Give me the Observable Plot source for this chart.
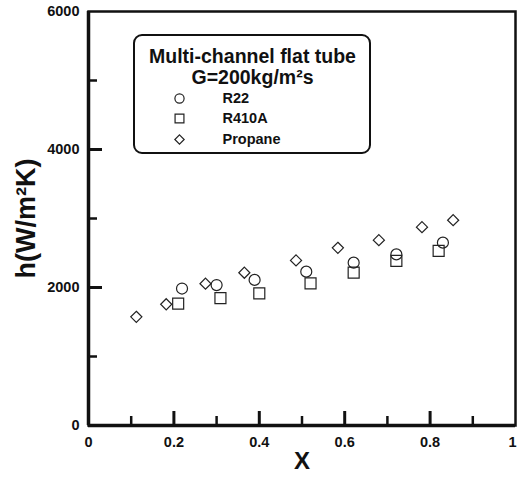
<!DOCTYPE html>
<html>
<head>
<meta charset="utf-8">
<script src="https://cdn.jsdelivr.net/npm/d3@7"></script>
<script src="https://cdn.jsdelivr.net/npm/@observablehq/plot@0.6"></script>
<style>
  html, body { margin: 0; padding: 0; background: #fff; }
  #chart { width: 518px; height: 479px; }
  svg { font-family: "Liberation Sans", Arial, sans-serif; }
</style>
</head>
<body>
<div id="chart"></div>
<script>
// ---- data ----
const r22X = [0.219, 0.300, 0.389, 0.510, 0.621, 0.721, 0.830];
const r22H = [1985, 2035, 2110, 2230, 2360, 2480, 2650];
const r410aX = [0.210, 0.309, 0.400, 0.520, 0.621, 0.721, 0.820];
const r410aH = [1765, 1845, 1915, 2060, 2215, 2385, 2530];
const propaneX = [0.112, 0.182, 0.274, 0.365, 0.486, 0.584, 0.680, 0.781, 0.854];
const propaneH = [1575, 1757, 2055, 2214, 2393, 2575, 2686, 2874, 2975];

const xMajorTicks = [0, 0.2, 0.4, 0.6, 0.8, 1];
const xMinorTicks = [0.1, 0.3, 0.5, 0.7, 0.9];
const yMajorTicks = [0, 2000, 4000, 6000];
const yMinorTicks = [1000, 3000, 5000];
const xTickLabels = ["0", "0.2", "0.4", "0.6", "0.8", "1"];
const yTickLabels = ["0", "2000", "4000", "6000"];

const legendTitle = ["Multi-channel flat tube", "G=200kg/m²s"];
const seriesNames = ["R22", "R410A", "Propane"];

const toRows = (xs, ys) => xs.map((x, i) => ({x, h: ys[i]}));
const r22 = toRows(r22X, r22H);
const r410a = toRows(r410aX, r410aH);
const propane = toRows(propaneX, propaneH);

// layout helpers (pixel -> data for legend placement)
const mL = 88, mT = 11, W = 518, H = 479, mR = 3, mB = 54;
const pxX = px => (px - mL) / (W - mL - mR);
const pxY = py => (H - mB - py) * 6000 / (H - mB - mT);

const ink = "#111";
const markStyle = {fill: "none", stroke: "#222", strokeWidth: 1.2};
const labelStyle = {tickSize: 0, fontSize: 14.5, fontWeight: "bold", fill: ink, label: null};
const xLabelAt = v => xTickLabels[xMajorTicks.indexOf(v)];

const chart = Plot.plot({
  width: W,
  height: H,
  marginLeft: mL,
  marginRight: mR,
  marginTop: mT,
  marginBottom: mB,
  x: {domain: [0, 1]},
  y: {domain: [0, 6000]},
  marks: [
    Plot.frame({stroke: ink, strokeWidth: 2.5}),
    Plot.ruleX([0], {stroke: ink, strokeWidth: 3.5}),
    Plot.ruleY([0], {stroke: ink, strokeWidth: 3.5}),
    // inward ticks
    Plot.axisX(xMajorTicks.slice(1, -1), {tickSize: -14, stroke: ink, strokeWidth: 3, tickFormat: () => "", label: null}),
    Plot.axisX(xMinorTicks, {tickSize: -9, stroke: ink, strokeWidth: 2.5, tickFormat: () => "", label: null}),
    Plot.axisY(yMajorTicks.slice(1, -1), {tickSize: -14, stroke: ink, strokeWidth: 3, tickFormat: () => "", label: null}),
    Plot.axisY(yMinorTicks, {tickSize: -9, stroke: ink, strokeWidth: 2.5, tickFormat: () => "", label: null}),
    // tick labels
    Plot.axisX(xMajorTicks.slice(0, -1), {...labelStyle, tickPadding: 11, tickFormat: xLabelAt}),
    Plot.axisX(xMajorTicks.slice(-1), {...labelStyle, tickPadding: 11, dx: -3, tickFormat: xLabelAt}),
    Plot.axisY(yMajorTicks, {...labelStyle, tickPadding: 9, tickFormat: (d, i) => yTickLabels[i]}),
    // axis titles
    Plot.text(["X"], {frameAnchor: "bottom", dy: 43, lineAnchor: "bottom", text: d => d, fontSize: 24, fontWeight: "bold", fill: ink}),
    Plot.text(["h(W/m²K)"], {frameAnchor: "left", dx: -54, rotate: -90, lineAnchor: "bottom", textAnchor: "middle", text: d => d, fontSize: 27, fontWeight: "bold", fill: ink}),
    // data
    Plot.dot(r22, {x: "x", y: "h", symbol: "circle", r: 5.5, ...markStyle}),
    Plot.dot(r410a, {x: "x", y: "h", symbol: "square", r: 6.2, ...markStyle}),
    Plot.dot(propane, {x: "x", y: "h", symbol: "diamond2", r: 5, ...markStyle}),
    // legend box
    Plot.rect([0], {x1: pxX(134), x2: pxX(370), y1: pxY(153), y2: pxY(35), rx: 8, ry: 8, fill: "white", stroke: ink, strokeWidth: 2}),
    Plot.text([legendTitle[0]], {x: pxX(252), y: pxY(56), text: d => d, fontSize: 19.5, fontWeight: "bold", fill: ink}),
    Plot.text([legendTitle[1]], {x: pxX(252), y: pxY(77), text: d => d, fontSize: 19.5, fontWeight: "bold", fill: ink}),
    Plot.dot([0], {x: pxX(179), y: pxY(98), symbol: "circle", r: 4.6, ...markStyle}),
    Plot.dot([0], {x: pxX(179), y: pxY(118), symbol: "square", r: 5, ...markStyle}),
    Plot.dot([0], {x: pxX(179), y: pxY(139), symbol: "diamond2", r: 4.2, ...markStyle}),
    Plot.text([seriesNames[0]], {x: pxX(222), y: pxY(98), text: d => d, textAnchor: "start", fontSize: 14.5, fontWeight: "bold", fill: ink}),
    Plot.text([seriesNames[1]], {x: pxX(222), y: pxY(118), text: d => d, textAnchor: "start", fontSize: 14.5, fontWeight: "bold", fill: ink}),
    Plot.text([seriesNames[2]], {x: pxX(222), y: pxY(139), text: d => d, textAnchor: "start", fontSize: 14.5, fontWeight: "bold", fill: ink})
  ]
});
document.getElementById("chart").appendChild(chart);
</script>
</body>
</html>
